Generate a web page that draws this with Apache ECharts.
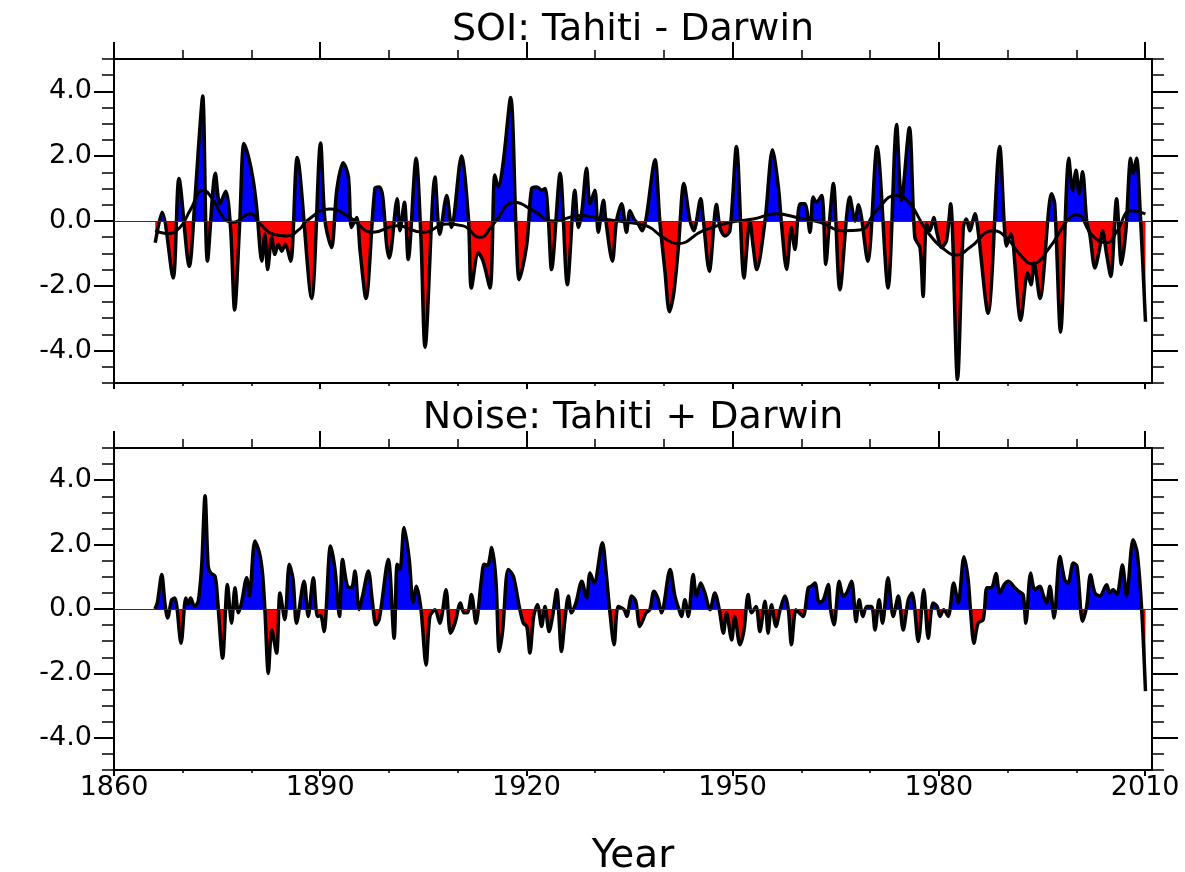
<!DOCTYPE html>
<html>
<head>
<meta charset="UTF-8">
<title>SOI: Tahiti - Darwin</title>
<script src="https://cdn.jsdelivr.net/npm/echarts@6/dist/echarts.min.js"></script>
<style>
  html, body { margin: 0; padding: 0; background: #fff; }
  #chart { width: 1185px; height: 872px; }
</style>
</head>
<body>
<div id="chart"></div>
<script>
// tick positions
var xTicks = [1860, 1890, 1920, 1950, 1980, 2010];
var xMinorTicks = [1870, 1880, 1900, 1910, 1930, 1940, 1960, 1970, 1990, 2000];
var yTicks = [-4, -2, 0, 2, 4];
var yMinorTicks = [-5, -4.5, -3.5, -3, -2.5, -1.5, -1, -0.5, 0.5, 1, 1.5, 2.5, 3, 3.5, 4.5, 5];

// SOI: Tahiti - Darwin
var soiYears = [1866.0,1867.0,1868.6,1869.45,1870.95,1871.8,1872.3,1872.9,1873.6,1874.75,1875.4,1876.25,1876.95,1877.55,1878.3,1878.9,1879.55,1880.25,1880.75,1881.5,1881.95,1882.35,1882.95,1883.4,1883.9,1884.4,1884.9,1885.7,1886.65,1888.75,1890.05,1890.7,1891.65,1892.4,1893.35,1894.1,1894.55,1895.3,1895.8,1896.65,1897.95,1898.6,1899.1,1899.65,1900.05,1901.2,1901.6,1902.25,1902.8,1903.95,1904.65,1905.25,1906.7,1907.4,1908.4,1909.1,1910.55,1911.55,1912.0,1913.0,1913.7,1914.7,1915.4,1915.9,1916.6,1917.7,1918.5,1918.95,1920.05,1920.75,1921.5,1922.2,1922.7,1923.2,1923.65,1924.9,1925.95,1927.05,1927.55,1928.05,1928.75,1929.25,1929.95,1930.45,1931.2,1931.55,1932.5,1933.1,1933.85,1934.55,1935.05,1935.65,1936.25,1936.85,1937.4,1938.7,1939.4,1940.15,1940.8,1941.4,1942.1,1942.9,1943.8,1944.35,1945.35,1945.7,1946.6,1947.65,1948.15,1948.85,1949.6,1950.55,1951.65,1952.5,1953.0,1953.5,1954.7,1955.8,1956.65,1957.1,1957.85,1958.55,1959.05,1959.8,1960.5,1961.25,1961.7,1962.2,1962.95,1963.55,1964.05,1964.65,1965.6,1967.05,1967.8,1968.3,1969.65,1971.0,1972.6,1973.85,1974.55,1975.7,1976.5,1977.25,1977.7,1978.2,1978.7,1979.25,1979.65,1980.4,1981.1,1981.7,1982.7,1983.55,1984.0,1984.5,1985.25,1985.7,1987.15,1988.85,1989.85,1990.45,1991.9,1992.9,1993.4,1993.85,1994.7,1996.4,1996.85,1997.7,1998.9,1999.45,1999.95,2000.4,2000.9,2001.5,2001.95,2002.7,2003.4,2003.8,2004.4,2005.0,2005.85,2006.55,2007.2,2007.9,2008.25,2008.75,2009.25,2010.05];
var soiValues = [-0.67,0.27,-1.76,1.31,-1.4,0.74,2.3,3.86,-1.24,1.47,0.53,0.92,-0.2,-2.75,0.0,2.39,1.99,1.26,0.43,-1.24,-0.41,-1.5,-0.51,-1.03,-0.72,-0.93,-0.72,-1.24,1.96,-2.39,2.41,0.0,-0.82,0.95,1.8,1.36,-0.2,0.11,-0.93,-2.39,1.0,1.05,0.74,-0.72,-1.14,0.69,-0.3,0.58,-1.19,1.94,-0.51,-3.9,1.36,-0.41,0.79,-0.2,2.01,0.11,-2.07,-0.98,-1.24,-2.07,1.42,1.05,1.78,3.81,-0.3,-1.81,-0.72,1.0,1.05,0.95,1.0,0.0,-1.5,1.47,-1.97,0.95,-0.2,0.27,1.63,0.53,0.95,-0.35,0.64,0.0,-1.24,0.0,0.53,-0.35,0.32,0.06,-0.09,-0.3,0.06,1.89,0.0,-1.55,-2.8,-2.28,-0.82,1.16,0.0,-0.3,0.69,0.11,-1.55,0.51,-0.2,-0.46,-0.3,2.3,-1.76,0.0,-0.82,-1.5,0.0,2.2,1.05,-0.09,-1.5,-0.2,-0.88,0.53,0.53,-0.35,0.74,0.58,0.79,-1.34,-0.09,1.16,-2.12,0.74,0.0,0.5,-1.24,2.3,-2.07,2.98,0.64,2.88,-0.51,-0.82,-2.33,-0.09,-0.3,0.11,-0.3,-0.82,-0.61,0.53,-4.89,-0.2,0.06,-0.3,0.22,-0.3,-2.85,2.3,-0.77,-0.4,-3.06,-1.6,-1.97,-1.3,-2.39,0.84,0.53,-3.43,1.94,0.95,1.57,0.84,1.52,0.0,-0.41,-1.45,-0.82,-0.3,-1.03,-1.71,0.69,-1.34,-0.3,1.94,1.47,1.94,0.43,-3.11];

// low-pass curve drawn over the SOI
var smoothYears = [1866.0,1867.7,1869.6,1871.05,1873.0,1874.45,1875.9,1877.35,1879.8,1881.25,1883.2,1885.1,1887.0,1888.0,1891.4,1894.3,1897.7,1901.1,1905.0,1908.4,1910.8,1913.2,1915.2,1918.3,1921.0,1923.9,1927.8,1931.2,1934.6,1937.5,1939.9,1942.0,1945.7,1949.6,1953.0,1956.4,1959.3,1962.7,1966.1,1968.5,1970.9,1973.8,1975.8,1978.2,1981.1,1982.6,1984.5,1987.9,1989.8,1991.8,1993.5,1996.1,1998.6,2000.0,2002.4,2004.4,2005.8,2008.0,2010.05];
var smoothValues = [-0.3,-0.39,-0.2,0.32,0.95,0.64,0.11,-0.04,0.22,-0.09,-0.41,-0.46,-0.25,0.0,0.37,0.11,-0.35,-0.15,-0.35,-0.09,-0.15,-0.51,-0.09,0.58,0.32,0.0,0.17,0.06,-0.04,-0.15,-0.51,-0.7,-0.3,-0.04,0.06,0.22,0.11,-0.04,-0.3,-0.28,0.32,0.79,0.53,-0.3,-0.93,-1.05,-0.82,-0.3,-0.51,-1.03,-1.32,-0.82,0.0,0.19,-0.46,-0.67,-0.35,0.32,0.22];

// Noise: Tahiti + Darwin
var noiseYears = [1865.95,1866.3,1866.95,1867.4,1867.8,1868.4,1868.85,1869.75,1870.45,1870.8,1871.15,1871.7,1872.25,1872.75,1873.25,1873.7,1874.05,1874.7,1875.05,1875.8,1876.5,1877.1,1877.6,1878.1,1878.55,1879.3,1879.7,1880.5,1881.15,1881.6,1881.95,1882.45,1882.95,1883.65,1884.15,1884.85,1885.5,1886.05,1886.55,1887.65,1888.25,1889.0,1889.6,1890.05,1890.55,1891.5,1892.15,1892.8,1893.25,1893.95,1894.55,1895.05,1895.65,1896.15,1897.0,1897.6,1898.1,1898.6,1899.9,1900.75,1901.2,1901.6,1902.2,1902.95,1903.5,1904.0,1904.65,1905.4,1905.95,1906.7,1907.4,1908.3,1908.95,1909.6,1910.4,1910.9,1911.4,1912.0,1912.65,1913.45,1913.85,1914.35,1914.95,1915.55,1916.05,1916.55,1917.35,1918.1,1918.95,1919.55,1920.05,1920.5,1921.05,1921.6,1922.2,1922.7,1923.3,1923.8,1924.4,1925.1,1925.6,1926.1,1926.55,1927.2,1928.05,1928.75,1929.25,1929.85,1931.05,1931.55,1932.15,1932.75,1933.35,1934.2,1934.6,1935.3,1935.9,1936.5,1937.4,1937.95,1938.55,1939.1,1939.65,1940.9,1941.6,1942.2,1942.55,1943.05,1943.55,1944.25,1944.75,1945.35,1945.95,1946.7,1947.4,1948.05,1948.65,1949.1,1949.85,1950.3,1951.05,1951.65,1952.25,1952.75,1953.4,1953.95,1954.7,1955.15,1955.65,1956.3,1956.9,1957.6,1958.1,1958.55,1959.2,1959.7,1960.25,1961.0,1961.45,1961.95,1962.6,1963.2,1963.9,1964.25,1964.75,1965.5,1966.1,1966.6,1967.3,1967.95,1968.4,1968.95,1969.5,1970.2,1970.7,1971.3,1971.8,1972.6,1973.35,1974.1,1974.8,1975.55,1976.1,1977.0,1977.8,1978.45,1979.15,1979.75,1980.15,1980.7,1981.35,1982.15,1982.8,1983.65,1984.25,1984.6,1985.1,1985.7,1986.45,1987.0,1987.65,1988.3,1988.85,1989.5,1990.1,1991.05,1991.6,1992.25,1992.65,1993.35,1993.95,1994.7,1995.15,1995.65,1996.15,1996.75,1997.6,1998.3,1998.8,1999.55,2000.1,2000.9,2001.5,2002.05,2002.7,2003.4,2004.4,2004.85,2005.35,2005.9,2006.7,2007.3,2008.25,2008.85,2009.5,2010.05];
var noiseValues = [0.0,0.19,1.07,0.19,-0.28,0.29,0.34,-1.06,0.34,0.15,0.34,0.08,0.24,1.33,3.52,1.33,1.12,1.02,0.34,-1.53,0.76,-0.44,0.66,-0.12,0.19,0.97,0.4,2.11,1.75,1.12,-0.02,-2.0,-0.65,-1.37,0.5,-0.33,1.39,0.92,-0.44,0.86,-0.23,0.97,-0.23,-0.2,-0.7,1.96,1.23,-0.23,1.54,0.71,0.66,1.18,-0.02,0.4,1.18,0.2,-0.49,-0.3,1.54,-0.91,1.39,1.23,2.53,1.54,0.2,0.71,0.0,-1.74,-0.23,-0.02,-0.44,0.6,-0.75,-0.44,0.19,-0.12,-0.12,0.45,-0.44,0.92,1.39,1.35,1.91,0.92,-1.32,-0.65,1.23,1.02,0.08,-0.44,-0.54,-1.37,-0.23,0.13,-0.54,0.08,-0.7,-0.23,0.6,-1.32,-0.33,0.4,-0.12,0.19,0.86,0.34,1.12,0.81,2.06,1.23,-0.12,-1.11,0.08,-0.02,-0.23,0.4,0.24,-0.54,-0.12,-0.02,0.55,0.34,-0.12,1.23,0.4,-0.02,-0.23,0.29,-0.23,1.07,0.4,0.81,0.5,-0.02,0.5,-0.02,-0.75,-0.12,-0.96,-0.23,-1.11,-0.65,0.45,-0.12,0.08,-0.7,0.24,-0.75,0.13,-0.54,-0.02,0.4,-0.02,-1.11,-0.02,-0.12,-0.23,0.66,0.71,0.81,0.19,0.29,0.76,-0.02,-0.49,0.86,0.4,0.5,0.86,-0.39,0.29,-0.23,0.08,0.08,-0.65,0.29,-0.44,0.97,-0.23,0.4,-0.65,0.29,0.5,-1.01,0.6,-0.91,0.19,0.08,-0.23,-0.02,-0.23,0.81,0.19,1.62,0.92,-0.05,-1.06,-0.44,-0.33,0.66,0.66,1.1,0.5,0.76,0.86,0.66,0.55,0.45,-0.44,1.12,0.6,0.71,0.45,0.19,0.71,-0.28,1.63,0.91,0.81,1.43,1.32,-0.38,0.08,1.06,0.5,0.4,0.75,0.5,0.6,0.45,1.37,0.4,2.15,1.74,-0.02,-2.55];

function pairs(xs, ys) {
  return xs.map(function (x, i) { return [x, ys[i]]; });
}

var FONT = 'DejaVu Sans';
var panels = [
  { top: 59, height: 324 },
  { top: 448, height: 322 }
];

var chart = echarts.init(document.getElementById('chart'), null, { renderer: 'canvas' });

var grids = [], xAxes = [], yAxes = [];
panels.forEach(function (p, g) {
  grids.push({ left: 114, width: 1038, top: p.top, height: p.height, containLabel: false, outerBoundsMode: 'none' });
  var lastPanel = (g === panels.length - 1);
  // bottom: labelled ticks
  xAxes.push({
    gridIndex: g, type: 'value', position: 'bottom', min: 1860, max: 2011,
    axisLine: { show: true, onZero: false, lineStyle: { color: '#000', width: 2 } },
    axisTick: { show: true, customValues: xTicks, length: 6, lineStyle: { color: '#000', width: 2 } },
    axisLabel: {
      show: lastPanel, customValues: xTicks, margin: 4, color: '#000', fontSize: 27, fontFamily: FONT,
      formatter: function (v) { return String(v); }
    },
    splitLine: { show: false },
    name: lastPanel ? 'Year' : '', nameLocation: 'middle', nameGap: 67,
    nameTextStyle: { color: '#000', fontSize: 39, fontFamily: FONT }
  });
  xAxes.push({
    gridIndex: g, type: 'value', position: 'bottom', min: 1860, max: 2011,
    axisLine: { show: false, onZero: false },
    axisTick: { show: true, customValues: xMinorTicks, length: 3, lineStyle: { color: '#000', width: 1.5 } },
    axisLabel: { show: false }, splitLine: { show: false }
  });
  xAxes.push({
    gridIndex: g, type: 'value', position: 'top', min: 1860, max: 2011,
    axisLine: { show: true, onZero: false, lineStyle: { color: '#000', width: 2 } },
    axisTick: { show: true, customValues: xTicks, length: 17, lineStyle: { color: '#000', width: 2 } },
    axisLabel: { show: false }, splitLine: { show: false }
  });
  xAxes.push({
    gridIndex: g, type: 'value', position: 'top', min: 1860, max: 2011,
    axisLine: { show: false, onZero: false },
    axisTick: { show: true, customValues: xMinorTicks, length: 9, lineStyle: { color: '#000', width: 1.5 } },
    axisLabel: { show: false }, splitLine: { show: false }
  });
  ['left', 'right'].forEach(function (side) {
    yAxes.push({
      gridIndex: g, type: 'value', position: side, min: -5, max: 5,
      axisLine: { show: true, onZero: false, lineStyle: { color: '#000', width: 2 } },
      axisTick: { show: true, customValues: yTicks, length: side === 'left' ? 20 : 26, lineStyle: { color: '#000', width: 2 } },
      axisLabel: {
        show: side === 'left', customValues: yTicks, margin: 22, color: '#000', fontSize: 27, fontFamily: FONT,
        formatter: function (v) { return v.toFixed(1); }
      },
      splitLine: { show: false }
    });
    yAxes.push({
      gridIndex: g, type: 'value', position: side, min: -5, max: 5,
      axisLine: { show: false, onZero: false },
      axisTick: { show: true, customValues: yMinorTicks, length: 12, lineStyle: { color: '#000', width: 1.5 } },
      axisLabel: { show: false }, splitLine: { show: false }
    });
  });
});

function areaSeries(g, data) {
  return {
    type: 'line', xAxisIndex: g * 4, yAxisIndex: g * 4, data: data,
    showSymbol: false, smooth: 0.3, lineStyle: { width: 0 },
    areaStyle: { opacity: 1 }, silent: true, z: 2
  };
}
function blackLine(g, data, width, smooth, withZero) {
  var s = {
    type: 'line', xAxisIndex: g * 4, yAxisIndex: g * 4, data: data,
    showSymbol: false, smooth: smooth, silent: true, z: 4,
    lineStyle: { color: '#000', width: width }, itemStyle: { color: '#000' }
  };
  if (withZero) {
    s.markLine = {
      silent: true, symbol: 'none', label: { show: false },
      lineStyle: { color: '#333', width: 1, type: 'solid' },
      data: [{ yAxis: 0 }]
    };
  }
  return s;
}

var soiData = pairs(soiYears, soiValues);
var noiseData = pairs(noiseYears, noiseValues);

var option = {
  animation: false,
  backgroundColor: '#fff',
  grid: grids,
  xAxis: xAxes,
  yAxis: yAxes,
  visualMap: [{
    type: 'piecewise', show: false, dimension: 1, seriesIndex: [0, 3],
    pieces: [{ gt: -100, lte: 0, color: '#ff0000' }, { gt: 0, lte: 100, color: '#0000ff' }],
    outOfRange: { color: '#000' }
  }],
  graphic: [
    { type: 'text', x: 633, y: 30, style: { text: 'SOI: Tahiti - Darwin', fontSize: 38, fontFamily: FONT, fill: '#000', align: 'center', verticalAlign: 'middle' } },
    { type: 'text', x: 633, y: 418, style: { text: 'Noise: Tahiti + Darwin', fontSize: 38, fontFamily: FONT, fill: '#000', align: 'center', verticalAlign: 'middle' } }
  ],
  series: [
    areaSeries(0, soiData),
    blackLine(0, soiData, 3.5, 0.3, true),
    blackLine(0, pairs(smoothYears, smoothValues), 3, 0.5, false),
    areaSeries(1, noiseData),
    blackLine(1, noiseData, 3.5, 0.3, true)
  ]
};

chart.setOption(option);
</script>
</body>
</html>
